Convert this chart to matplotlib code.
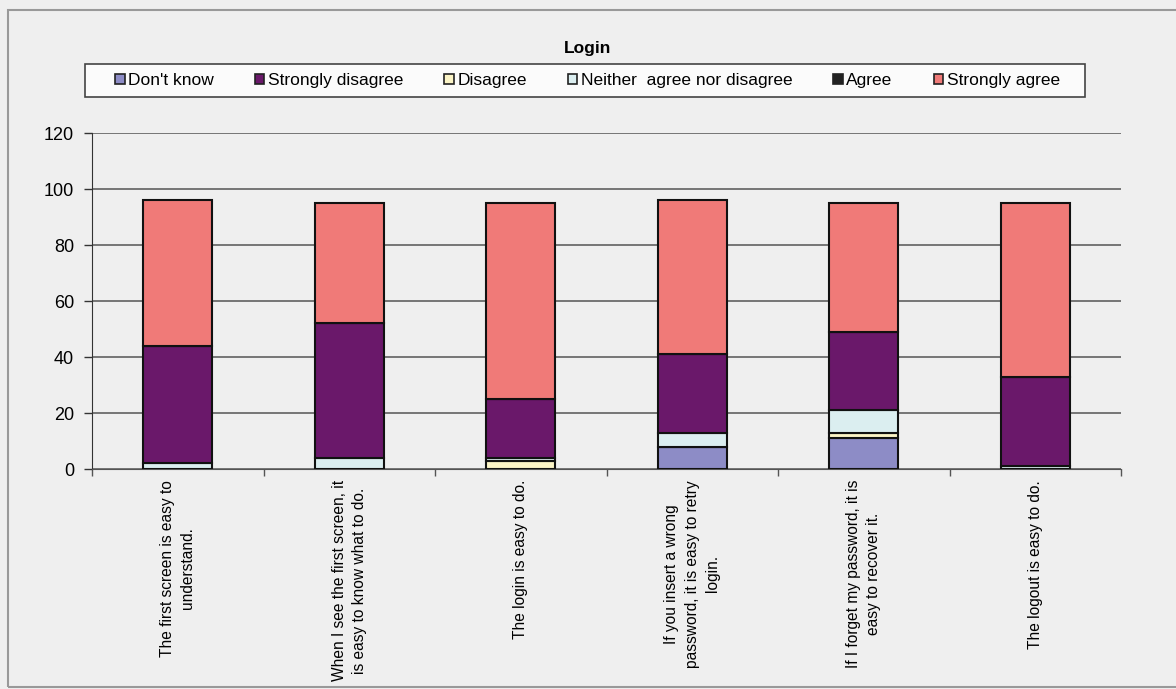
import matplotlib.pyplot as plt
import numpy as np
from matplotlib.patches import Patch, Rectangle


# ---------------------------------------------------
# DATOS
# ---------------------------------------------------
QUESTIONS = [
    "The first screen is easy to\nunderstand.",
    "When I see the first screen, it\nis easy to know what to do.",
    "The login is easy to do.",
    "If you insert a wrong\npassword, it is easy to retry\nlogin.",
    "If I forget my password, it is\neasy to recover it.",
    "The logout is easy to do.",
]
DONT_KNOW = [0, 0, 0, 8, 11, 0]
STRONGLY_DISAGREE = [42, 48, 21, 28, 28, 32]
DISAGREE = [0, 0, 3, 0, 2, 0]
NEITHER = [2, 4, 1, 5, 8, 1]
AGREE = [0, 0, 0, 0, 0, 0]
STRONGLY_AGREE = [52, 43, 70, 55, 46, 62]

LEGEND_NAMES = ["Don't know", "Strongly disagree", "Disagree",
                "Neither  agree nor disagree", "Agree", "Strongly agree"]
COLORS = {
    "Don't know": '#8d8cc6',
    "Strongly disagree": '#6a186a',
    "Disagree": '#fbf4c6',
    "Neither  agree nor disagree": '#dbeef0',
    "Agree": '#222222',
    "Strongly agree": '#f07a78',
}
# ---------------------------------------------------

BG = '#efefef'
W, H = 1176, 689
plt.rcParams['font.family'] = ['Liberation Sans', 'DejaVu Sans']

fig = plt.figure(figsize=(W / 100, H / 100), dpi=100, facecolor=BG)
# marco exterior
fig.patches.append(Rectangle((8 / W, 0.003), 1.2, 1 - 10 / H - 0.003,
                             transform=fig.transFigure, fill=False,
                             edgecolor='#999999', lw=1.5, zorder=0))
# marco de la leyenda
fig.patches.append(Rectangle((85 / W, 1 - 97 / H), 1000 / W, 33 / H,
                             transform=fig.transFigure, facecolor='#fbfbfb',
                             edgecolor='#444444', lw=1.2, zorder=1))

ax = fig.add_axes([92 / W, 1 - 469 / H, 1029 / W, 336 / H])
ax.set_facecolor(BG)

x = np.arange(len(QUESTIONS))
# orden de apilado tal como se ve en la figura
stack = [("Don't know", DONT_KNOW), ("Disagree", DISAGREE),
         ("Neither  agree nor disagree", NEITHER),
         ("Strongly disagree", STRONGLY_DISAGREE), ("Agree", AGREE),
         ("Strongly agree", STRONGLY_AGREE)]
bottom = np.zeros(len(QUESTIONS))
for name, vals in stack:
    vals = np.array(vals, dtype=float)
    ax.bar(x, vals, width=0.4, bottom=bottom, color=COLORS[name],
           edgecolor='#111111', linewidth=1.5, zorder=3)
    bottom += vals

ax.set_xlim(-0.5, len(QUESTIONS) - 0.5)
ax.set_ylim(0, 120)
ax.set_yticks(range(0, 121, 20))
ax.yaxis.grid(True, color='#555555', linewidth=1.1, zorder=0)
ax.tick_params(axis='y', labelsize=13, length=6, width=1, color='#333333', pad=7)

ax.set_xticks(np.arange(-0.5, len(QUESTIONS)))
ax.set_xticklabels([])
ax.tick_params(axis='x', which='major', length=5, width=1, color='#555555')
ax.set_xticks(x, minor=True)
ax.set_xticklabels(QUESTIONS, minor=True, rotation=90, ha='center', va='top',
                   ma='center', fontsize=11.2, linespacing=1.45)
ax.tick_params(axis='x', which='minor', length=0, pad=8)

for side in ['top', 'right']:
    ax.spines[side].set_visible(False)
ax.spines['left'].set_color('#333333')
ax.spines['bottom'].set_color('#555555')

fig.text(588 / W, 1 - 48 / H, 'Login', ha='center', va='center',
         fontsize=12.5, fontweight='bold')

handles = [Patch(facecolor=COLORS[n], edgecolor='#222222', linewidth=1.2) for n in LEGEND_NAMES]
leg = fig.legend(handles, LEGEND_NAMES, ncol=6, mode='expand', loc='center',
                 bbox_to_anchor=(110 / W, 1 - 97 / H, 955 / W, 33 / H),
                 fontsize=12.5, frameon=False, borderaxespad=0,
                 handlelength=0.55, handleheight=0.55, handletextpad=0.2,
                 borderpad=0.3)
leg.set_zorder(2)

fig.savefig('out.png', dpi=100, facecolor=BG)
